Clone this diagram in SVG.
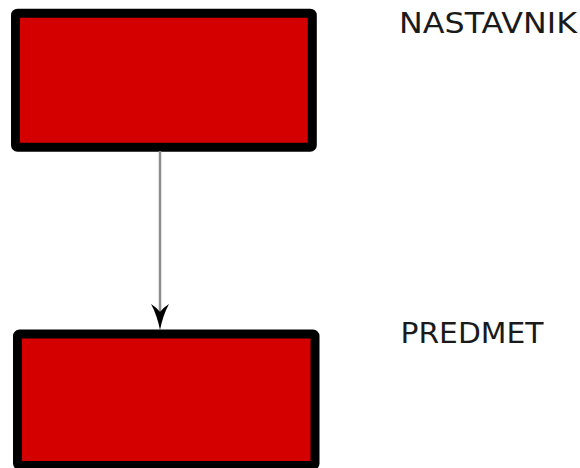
<svg xmlns="http://www.w3.org/2000/svg" width="580" height="468" viewBox="0 0 580 468">
  <style>
    .box { fill: #d40000; stroke: #000000; stroke-width: 9; stroke-linejoin: round; }
    .lbl { font-family: "DejaVu Sans", Verdana, sans-serif; font-size: 27.5px; fill: #1a1a1a; }
    .conn { stroke: #8c8c8c; stroke-width: 2.5; fill: none; }
    .head { fill: #000000; }
  </style>
  <g id="node-nastavnik">
    <rect class="box" x="15.5" y="13.2" width="296.8" height="134" rx="2"/>
    <text class="lbl" x="399" y="33" textLength="178" lengthAdjust="spacingAndGlyphs">NASTAVNIK</text>
  </g>
  <g id="node-predmet">
    <rect class="box" x="17.5" y="334" width="297.5" height="131.5" rx="2"/>
    <text class="lbl" x="400.5" y="343" textLength="143" lengthAdjust="spacingAndGlyphs">PREDMET</text>
  </g>
  <g id="connectors">
    <line class="conn" x1="160" y1="151" x2="160" y2="312"/>
    <path class="head" d="M151,304 Q156,307 160,312 Q164,307 169,304 Q163,315 160,330 Q157,315 151,304 Z"/>
  </g>
</svg>
